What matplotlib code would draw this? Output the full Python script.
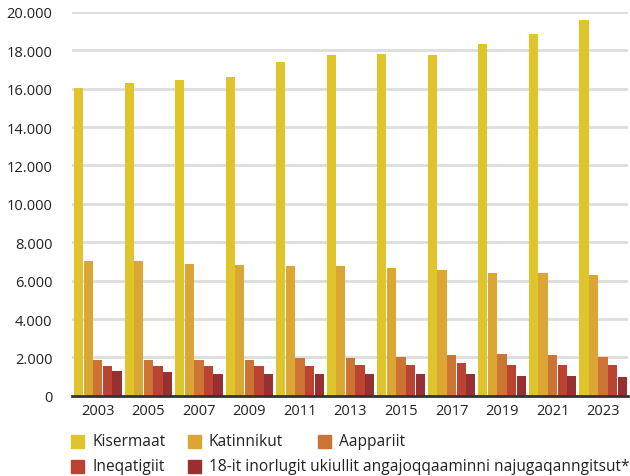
import matplotlib.pyplot as plt
import numpy as np
from matplotlib.patches import Rectangle

plt.rcParams['font.family'] = ['Open Sans', 'DejaVu Sans']

# Data
years = ['2003', '2005', '2007', '2009', '2011', '2013', '2015', '2017', '2019', '2021', '2023']
kisermaat = [16050, 16300, 16450, 16600, 17400, 17750, 17800, 17750, 18350, 18850, 19600]
katinnikut = [7000, 7000, 6890, 6840, 6740, 6740, 6680, 6530, 6420, 6420, 6320]
aappariit = [1880, 1880, 1880, 1880, 1980, 1980, 2040, 2140, 2190, 2140, 2040]
ineqatigiit = [1570, 1570, 1570, 1570, 1570, 1620, 1620, 1720, 1620, 1620, 1620]
inorlugit = [1300, 1250, 1150, 1150, 1150, 1150, 1150, 1150, 1040, 1040, 990]

series = [kisermaat, katinnikut, aappariit, ineqatigiit, inorlugit]
labels = ['Kisermaat', 'Katinnikut', 'Aappariit', 'Ineqatigiit',
          '18-it inorlugit ukiullit angajoqqaaminni najugaqanngitsut*']
colors = ['#E0C42C', '#DCA634', '#CC7433', '#BA4431', '#983032']

fig = plt.figure(figsize=(6.3, 4.77), dpi=100)
ax = fig.add_axes([0.114, 0.168, 0.883, 0.805])

x = np.arange(len(years))
w = 0.19
for i, (vals, col) in enumerate(zip(series, colors)):
    ax.bar(x + (i - 2) * w, vals, width=w * 0.96, color=col, zorder=3)

ax.set_xlim(-0.515, 10.495)
ax.set_ylim(0, 20000)
ax.set_yticks(range(0, 20001, 2000))
ax.set_yticklabels([f'{v:,}'.replace(',', '.') for v in range(0, 20001, 2000)])
ax.set_xticks(x)
ax.set_xticklabels(years)
ax.tick_params(length=0, labelsize=10.5, colors='#222222')
ax.tick_params(axis='y', pad=14)
ax.tick_params(axis='x', pad=5)
ax.yaxis.grid(True, color='#DDDDDD', linewidth=2, zorder=0)
for s in ['top', 'right', 'left']:
    ax.spines[s].set_visible(False)
ax.spines['bottom'].set_color('#333333')
ax.spines['bottom'].set_linewidth(2)
ax.spines['bottom'].set_zorder(4)

# Legend drawn by hand (row-major layout)
pos = [(71, 442), (188, 442), (318, 442), (71, 467), (188, 467)]
W, H = 630, 477
for (px, py), lab, col in zip(pos, labels, colors):
    fig.patches.append(Rectangle((px / W, (H - py - 6.5) / H), 13 / W, 13 / H,
                                 transform=fig.transFigure, color=col))
    fig.text((px + 21) / W, (H - py) / H, lab, fontsize=11.2, va='center',
             color='#222222')

fig.savefig('out.png', dpi=100)
